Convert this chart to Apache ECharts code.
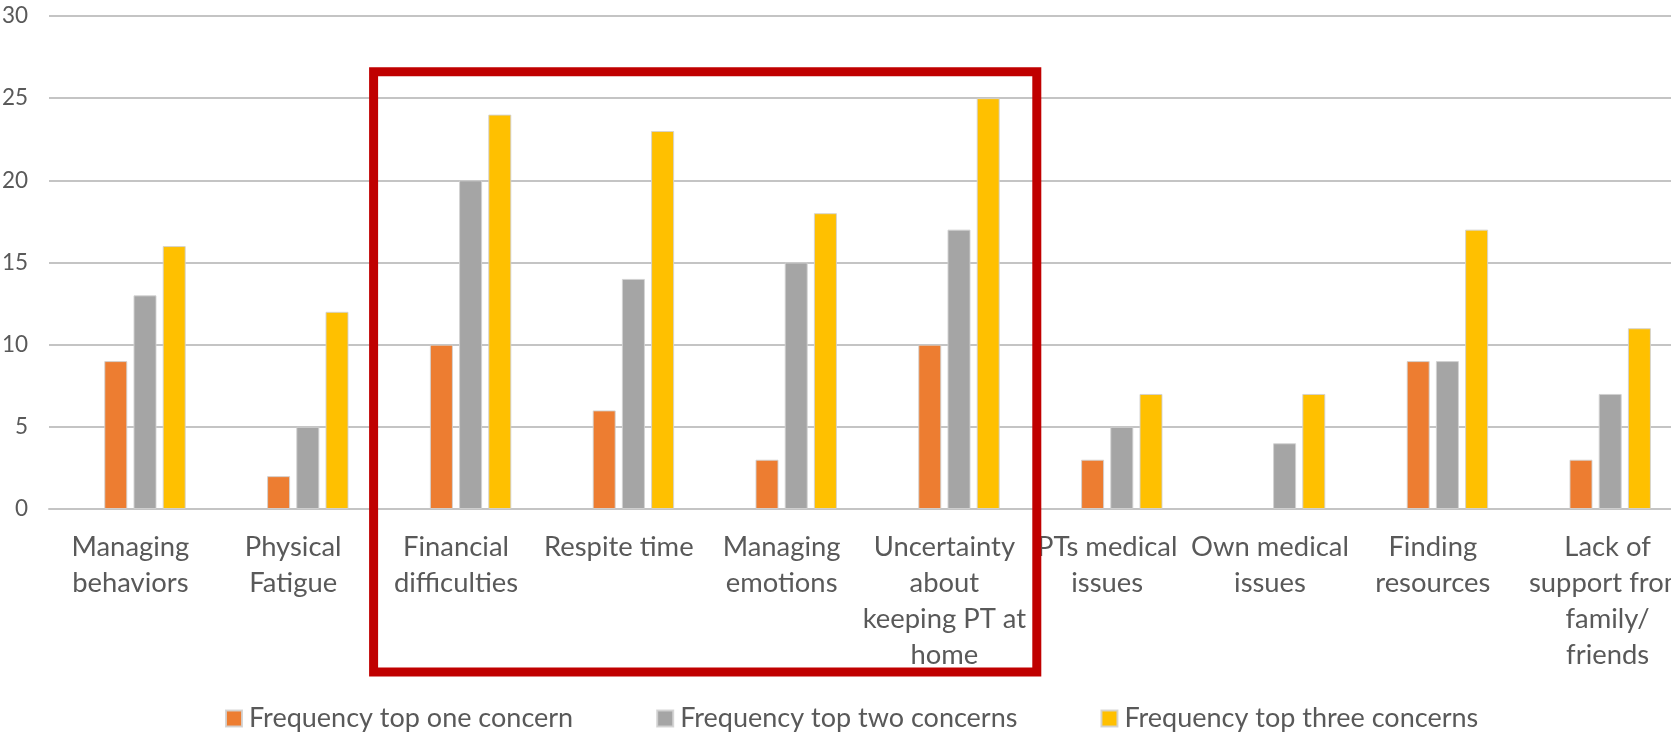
<!DOCTYPE html>
<html>
<head>
<meta charset="utf-8">
<script src="https://cdn.jsdelivr.net/npm/echarts@6/dist/echarts.min.js"></script>
<style>
  html, body { margin: 0; padding: 0; background: #fff; }
  #chart { width: 1671px; height: 736px; }
</style>
</head>
<body>
<div id="chart"></div>
<script>
// Caregiver concerns: how often each item was named among the top 1, 2 and 3 concerns
const categories = [
  'Managing\nbehaviors',
  'Physical\nFatigue',
  'Financial\ndifficulties',
  'Respite time',
  'Managing\nemotions',
  'Uncertainty\nabout\nkeeping PT at\nhome',
  'PTs medical\nissues',
  'Own medical\nissues',
  'Finding\nresources',
  'Lack of\nsupport from\nfamily/\nfriends'
];
const seriesNames = [
  'Frequency top one concern',
  'Frequency top two concerns',
  'Frequency top three concerns'
];
const topOne   = [9, 2, 10, 6, 3, 10, 3, null, 9, 3];
const topTwo   = [13, 5, 20, 14, 15, 17, 5, 4, 9, 7];
const topThree = [16, 12, 24, 23, 18, 25, 7, 7, 17, 11];
const yTicks = { min: 0, max: 30, interval: 5 };

// Highlighted block of categories (index range, inclusive)
const highlight = { from: 2, to: 5 };

const colors = ['#ED7D31', '#A5A5A5', '#FFC000'];
const textColor = '#595959';
const fontFamily = 'Lato, "Open Sans", sans-serif';

const chart = echarts.init(document.getElementById('chart'), null, { renderer: 'canvas' });

const barStyle = (c) => ({ color: c, borderColor: 'rgba(210,210,210,0.9)', borderWidth: 1 });

// An empty leading series reserves the first slot in each cluster
const spacer = {
  name: 'spacer', type: 'bar', data: categories.map(() => null),
  barWidth: 23, barGap: '27%', silent: true
};

const dataSeries = [topOne, topTwo, topThree].map((vals, i) => ({
  name: seriesNames[i],
  type: 'bar',
  data: vals,
  barWidth: 23,
  barGap: '27%',
  itemStyle: barStyle(colors[i])
}));

// The last label sits against the right edge and runs slightly past it
const axisData = categories.map((c, i) =>
  i === categories.length - 1 ? { value: c, textStyle: { padding: [0, 0, 0, 24] } } : c
);

chart.setOption({
  animation: false,
  color: colors,
  grid: {
    left: 49, right: -6, top: 16, bottom: 227,
    containLabel: false,
    outerBoundsMode: 'none'
  },
  legend: {
    data: seriesNames,
    left: 225,
    top: 705,
    padding: 0,
    itemWidth: 16,
    itemHeight: 16,
    itemGap: 83,
    icon: 'rect',
    textStyle: { color: textColor, fontSize: 27, fontFamily: fontFamily, padding: [0, 0, 0, 2] }
  },
  xAxis: {
    type: 'category',
    data: axisData,
    boundaryGap: true,
    axisLine: { show: true, lineStyle: { color: '#C4C4C4', width: 2 } },
    axisTick: { show: false },
    axisLabel: {
      interval: 0,
      color: textColor,
      fontSize: 27.4,
      fontFamily: fontFamily,
      lineHeight: 36,
      margin: 20,
      align: 'center'
    }
  },
  yAxis: {
    type: 'value',
    min: yTicks.min,
    max: yTicks.max,
    interval: yTicks.interval,
    axisLine: { show: false },
    axisTick: { show: false },
    splitLine: { lineStyle: { color: '#C4C4C4', width: 2 } },
    axisLabel: { color: textColor, fontSize: 22.5, fontFamily: fontFamily, margin: 21 }
  },
  series: [spacer].concat(dataSeries)
});

// Red frame around the highlighted categories, placed from the axis scale
function drawFrame() {
  const c0 = chart.convertToPixel({ xAxisIndex: 0 }, 0);
  const c1 = chart.convertToPixel({ xAxisIndex: 0 }, 1);
  const band = c1 - c0;
  const xa = chart.convertToPixel({ xAxisIndex: 0 }, highlight.from) - band / 2 - 1;
  const xb = chart.convertToPixel({ xAxisIndex: 0 }, highlight.to) + band / 2 + 11;
  const yTop = chart.convertToPixel({ yAxisIndex: 0 }, 26.6);
  const yBottom = 672;
  chart.setOption({
    graphic: [{
      type: 'rect',
      shape: { x: xa, y: yTop, width: xb - xa, height: yBottom - yTop },
      style: { fill: null, stroke: '#C00000', lineWidth: 9 },
      z: 100
    }]
  });
}
drawFrame();
</script>
</body>
</html>
